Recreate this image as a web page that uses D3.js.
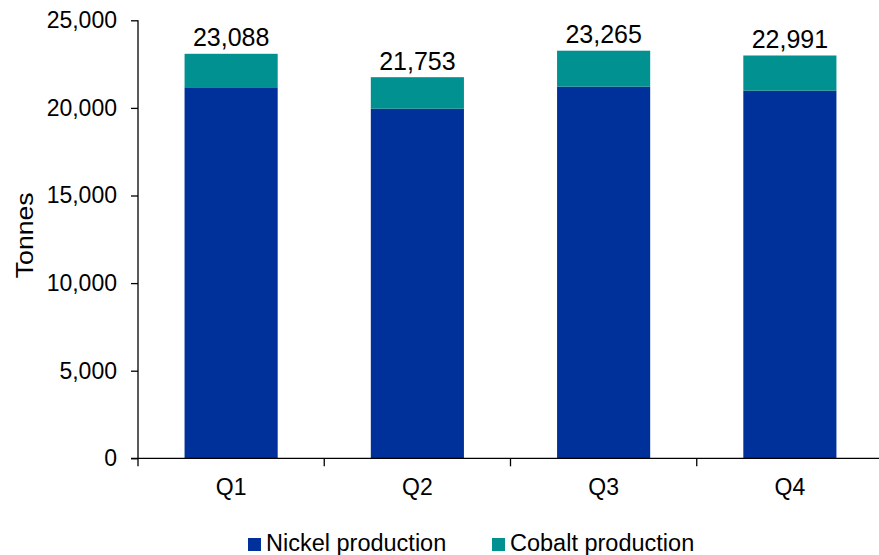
<!DOCTYPE html>
<html><head><meta charset="utf-8">
<script src="https://cdn.jsdelivr.net/npm/d3@7"></script>
<style>body{margin:0;background:#fff}svg{font-family:"Liberation Sans",Arial,sans-serif}</style>
</head><body><svg id="c" width="879" height="555"></svg>
<script>
const categories = ["Q1","Q2","Q3","Q4"];
const nickel = [21176, 19954, 21210, 20982];
const cobalt = [1912, 1799, 2055, 2009];
const totals = ["23,088","21,753","23,265","22,991"];
const yTicks = [0,5000,10000,15000,20000,25000];
const seriesNames = ["Nickel production","Cobalt production"];
const colors = ["#00309a","#009190"];

const svg = d3.select("#c");
const m = {left:138, top:20.3, bottom:458.3, right:883};
const x = d3.scaleBand().domain(categories).range([m.left, m.right]).paddingInner(0.5).paddingOuter(0.25);
const y = d3.scaleLinear().domain([0,25000]).range([m.bottom, m.top]);

const data = categories.map((c,i)=>({cat:c, nickel:nickel[i], cobalt:cobalt[i], total:totals[i]}));
const stack = d3.stack().keys(["nickel","cobalt"])(data);

svg.append("g").selectAll("g").data(stack).join("g")
  .attr("fill",(d,i)=>colors[i])
  .selectAll("rect").data(d=>d).join("rect")
  .attr("x",d=>x(d.data.cat)).attr("width",x.bandwidth())
  .attr("y",d=>y(d[1])).attr("height",d=>y(d[0])-y(d[1]));

// y axis
const ya = svg.append("g").attr("transform",`translate(${m.left},0)`)
  .call(d3.axisLeft(y).tickValues(yTicks).tickFormat(d3.format(",")).tickSize(7).tickPadding(14));
ya.select(".domain").attr("d",`M0,${m.top}V${m.bottom}`).attr("stroke","#000").attr("stroke-width",1.3);
ya.selectAll(".tick line").attr("stroke","#000").attr("stroke-width",1.3);
ya.selectAll("text").attr("font-size",23).attr("fill","#000").attr("font-family","Liberation Sans, Arial, sans-serif");

// x axis
const xa = svg.append("g").attr("transform",`translate(0,${m.bottom})`);
xa.append("line").attr("x1",m.left-7).attr("x2",879).attr("y1",0).attr("y2",0).attr("stroke","#000").attr("stroke-width",1.3);
const bounds = categories.map((c,i)=>x(c)-x.bandwidth()*0.5);
xa.selectAll("line.t").data(bounds).join("line").attr("class","t")
  .attr("x1",d=>d).attr("x2",d=>d).attr("y1",0).attr("y2",8).attr("stroke","#000").attr("stroke-width",1.3);
xa.selectAll("text").data(categories).join("text")
  .attr("x",d=>x(d)+x.bandwidth()/2).attr("y",37).attr("text-anchor","middle")
  .attr("font-size",23).text(d=>d);

// totals
svg.append("g").selectAll("text").data(data).join("text")
  .attr("x",d=>x(d.cat)+x.bandwidth()/2).attr("y",d=>y(d.nickel+d.cobalt)-7.5)
  .attr("text-anchor","middle").attr("font-size",25).text(d=>d.total);

// y title
svg.append("text").attr("transform",`translate(33,${(m.top+m.bottom)/2-4}) rotate(-90) scale(1.16,1)`)
  .attr("text-anchor","middle").attr("font-size",23).text("Tonnes");

// legend
const legX = [248, 492];
const lg = svg.append("g").selectAll("g").data(seriesNames).join("g")
  .attr("transform",(d,i)=>`translate(${legX[i]},538)`);
lg.append("rect").attr("width",13).attr("height",13).attr("fill",(d,i)=>colors[i]);
lg.append("text").attr("x",18).attr("y",13).attr("font-size",23.5).text(d=>d);
</script></body></html>
